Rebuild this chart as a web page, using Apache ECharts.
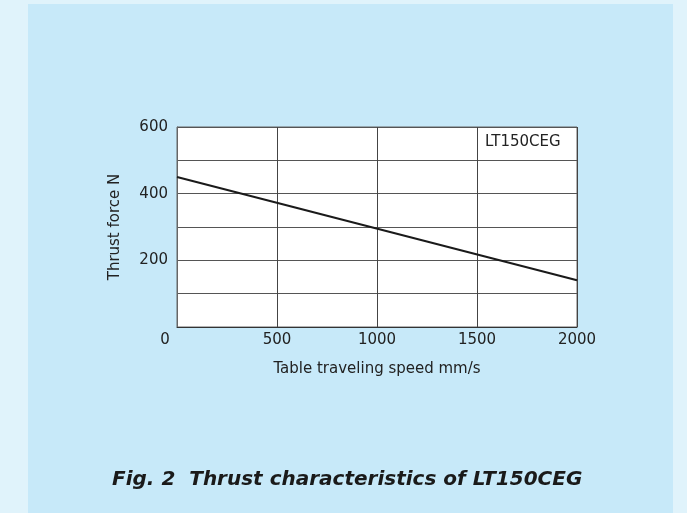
<!DOCTYPE html>
<html>
<head>
    <meta charset="utf-8">
    <title>Thrust characteristics of LT150CEG</title>
    <script src="https://cdn.jsdelivr.net/npm/echarts@6/dist/echarts.min.js"></script>
    <style>
        html, body { margin: 0; padding: 0; background: #e0f3fb; }
        #chart { width: 687px; height: 513px; }
    </style>
</head>
<body>
    <div id="chart"></div>
    <script type="text/javascript">
        // speed mm/s vs thrust N
        var speeds = [0, 2000];
        var thrust = [450, 140];
        var xTicks = [0, 500, 1000, 1500, 2000];
        var yTicks = [200, 400, 600];

        var chart = echarts.init(document.getElementById('chart'));
        var font = 'DejaVu Sans, sans-serif';

        var option = {
            backgroundColor: '#e0f3fb',
            animation: false,
            graphic: [
                {
                    type: 'rect', z: -10,
                    shape: { x: 28, y: 4, width: 645, height: 520 },
                    style: { fill: '#c7e9f9' }
                },
                {
                    type: 'text', z: 10,
                    left: 485, top: 135,
                    style: { text: 'LT150CEG', fontSize: 15, fontFamily: font, fill: '#222' }
                },
                {
                    type: 'text', z: 10,
                    left: 112, top: 470,
                    style: {
                        text: 'Fig. 2  Thrust characteristics of LT150CEG',
                        fontSize: 20, fontWeight: 'bold', fontStyle: 'italic',
                        fontFamily: font, fill: '#1a1a1a'
                    }
                }
            ],
            grid: {
                left: 177, top: 127, width: 400, height: 200,
                show: true, backgroundColor: '#fff', borderColor: '#666', borderWidth: 1
            },
            xAxis: {
                type: 'value', min: 0, max: 2000, interval: 500,
                name: 'Table traveling speed mm/s', nameLocation: 'middle', nameGap: 35,
                nameTextStyle: { fontSize: 15, fontFamily: font, color: '#222' },
                axisLine: { show: true, lineStyle: { color: '#333', width: 1 } },
                axisTick: { show: false },
                axisLabel: {
                    fontSize: 15, fontFamily: font, color: '#222', margin: 6,
                    formatter: function (v) {
                        if (v === 0) return '{z|0}';
                        return xTicks.indexOf(v) >= 0 ? String(v) : '';
                    },
                    rich: {
                        z: { fontSize: 15, fontFamily: font, color: '#222', padding: [0, 24, 0, 0] }
                    }
                },
                splitLine: { show: true, lineStyle: { color: '#444', width: 1 } }
            },
            yAxis: {
                type: 'value', min: 0, max: 600, interval: 100,
                name: 'Thrust force N', nameLocation: 'middle', nameGap: 54,
                nameTextStyle: { fontSize: 15, fontFamily: font, color: '#222' },
                axisLine: { show: true, lineStyle: { color: '#666', width: 1 } },
                axisTick: { show: false },
                axisLabel: {
                    fontSize: 15, fontFamily: font, color: '#222', margin: 9,
                    formatter: function (v) { return yTicks.indexOf(v) >= 0 ? String(v) : ''; }
                },
                splitLine: { show: true, lineStyle: { color: '#555', width: 1 } }
            },
            series: [
                {
                    type: 'line',
                    data: speeds.map(function (s, i) { return [s, thrust[i]]; }),
                    showSymbol: false,
                    lineStyle: { color: '#1a1a1a', width: 2 },
                    z: 5
                }
            ]
        };

        chart.setOption(option);
    </script>
</body>
</html>
